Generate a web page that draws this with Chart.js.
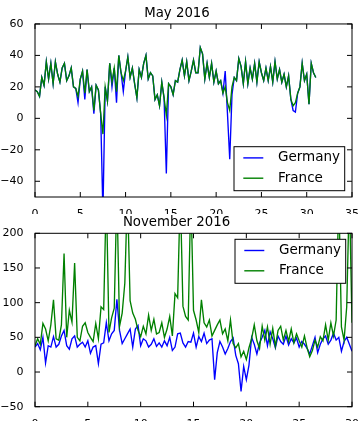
<!DOCTYPE html>
<html>
<head>
<meta charset="utf-8">
<script src="https://cdn.jsdelivr.net/npm/chart.js@4.4.1/dist/chart.umd.min.js"></script>
<style>
  body { margin: 0; background: #fff; }
  .box { position: absolute; left: 0; width: 362px; }
  #top { top: 0; height: 214px; }
  #bottom { top: 214px; height: 207px; }
  canvas { display: block; }
</style>
</head>
<body>
<div class="box" id="top"><canvas id="mayChart" width="362" height="214"></canvas></div>
<div class="box" id="bottom"><canvas id="novChart" width="362" height="207"></canvas></div>
<script>
// samples are every 6 hours, x is the day of the month
const samplesPerDay = 4;
const seriesNames = ["Germany", "France"];

const mayYTicks = [-40, -20, 0, 20, 40, 60];

const mayGermany = [
  18, 17, 14, 26, 21, 36, 25, 35, 22, 36, 28, 23, 32, 35, 24, 27,
  32, 20, 19, 10, 25, 30, 12, 31, 17, 20, 3, 21, 18, 3, -60, 20,
  11, 35, 20, 32, 10, 40, 29, 17, 30, 39, 26, 32, 22, 13, 31, 26,
  35, 40, 25, 29, 27, 12, 15, 8, 23, 13, -35, 22, 20, 15, 24, 23,
  31, 37, 27, 36, 24, 30, 37, 29, 29, 45, 41, 25, 35, 26, 35, 23,
  30, 22, 24, 16, 30, 3, -26, 15, 26, 24, 38, 33, 22, 36, 22, 32,
  25, 35, 23, 36, 29, 24, 32, 24, 33, 23, 36, 25, 31, 23, 28, 20,
  27, 12, 5, 4, 16, 20, 35, 24, 28, 9, 35, 29, 26
];
const mayFrance = [
  18, 17, 14, 26, 21, 36, 25, 35, 22, 36, 28, 23, 32, 35, 24, 27,
  32, 20, 19, 14, 25, 30, 16, 31, 17, 20, 5, 21, 18, 3, -10, 20,
  11, 35, 23, 32, 17, 40, 29, 24, 30, 39, 26, 32, 22, 13, 31, 26,
  35, 40, 25, 29, 27, 12, 15, 8, 23, 13, 2, 22, 20, 15, 24, 23,
  31, 37, 27, 36, 24, 30, 37, 29, 29, 45, 41, 25, 35, 26, 35, 23,
  30, 22, 24, 16, 20, 10, 5, 20, 26, 24, 38, 33, 22, 36, 22, 32,
  25, 35, 23, 36, 29, 24, 32, 24, 33, 23, 36, 25, 31, 23, 28, 20,
  27, 12, 8, 10, 16, 20, 35, 24, 28, 9, 35, 29, 26
];

const novGermany = [
  36, 41, 32, 50, 13, 38, 36, 51, 36, 40, 52, 60, 38, 33, 48, 52,
  36, 40, 43, 36, 45, 27, 36, 38, 12, 40, 42, 71, 45, 55, 60, 105,
  60, 41, 48, 55, 62, 36, 62, 67, 38, 48, 45, 36, 40, 48, 37, 42,
  36, 45, 38, 50, 31, 36, 55, 56, 42, 36, 44, 43, 56, 36, 51, 44,
  56, 41, 46, 48, -11, 28, 44, 36, 26, 34, 44, 49, 24, 12, -28, 8,
  -11, 10, 50, 40, 26, 42, 50, 60, 38, 58, 48, 35, 52, 44, 40, 52,
  39, 48, 42, 49, 36, 44, 40, 34, 26, 38, 50, 28, 40, 48, 52, 40,
  46, 56, 46, 50, 30, 44, 50, 40, 30
];
const novFrance = [
  38, 48, 40, 70, 62, 45, 68, 104, 48, 46, 68, 171, 50, 89, 72, 157,
  50, 45, 66, 71, 57, 50, 44, 70, 48, 94, 90, 260, 57, 78, 92, 260,
  66, 85, 128, 260, 103, 85, 76, 60, 51, 66, 55, 82, 60, 76, 55, 57,
  71, 50, 62, 80, 52, 113, 107, 260, 95, 80, 75, 260, 89, 75, 57, 104,
  71, 65, 75, 52, 60, 68, 75, 55, 62, 45, 75, 41, 35, 41, 22, 30,
  18, 35, 48, 68, 45, 34, 66, 46, 65, 40, 63, 37, 60, 66, 46, 60,
  44, 62, 42, 55, 45, 36, 52, 35, 22, 31, 46, 36, 51, 45, 68, 46,
  71, 52, 75, 260, 65, 46, 94, 260, 71
];

const FONT = "DejaVu Sans";

function toPoints(values) {
  return values.map((v, i) => ({ x: i / samplesPerDay, y: v }));
}

// matplotlib style: ticks pointing inward on all four sides, plus the frame
const frameTicks = {
  id: "frameTicks",
  afterDatasetsDraw(chart) {
    const { ctx, chartArea: a, scales } = chart;
    ctx.save();
    ctx.strokeStyle = "#000";
    ctx.lineWidth = 1;
    ctx.beginPath();
    scales.x.ticks.forEach(t => {
      const px = scales.x.getPixelForValue(t.value);
      ctx.moveTo(px, a.bottom); ctx.lineTo(px, a.bottom - 5);
      ctx.moveTo(px, a.top); ctx.lineTo(px, a.top + 5);
    });
    scales.y.ticks.forEach(t => {
      const py = scales.y.getPixelForValue(t.value);
      ctx.moveTo(a.left, py); ctx.lineTo(a.left + 5, py);
      ctx.moveTo(a.right, py); ctx.lineTo(a.right - 5, py);
    });
    ctx.stroke();
    ctx.strokeRect(a.left, a.top, a.right - a.left, a.bottom - a.top);
    ctx.restore();
  }
};

// legend box drawn inside the plot, like matplotlib's loc="lower right"/"upper right"
const boxLegend = {
  id: "boxLegend",
  afterDraw(chart, args, opts) {
    const { ctx, chartArea: a } = chart;
    const w = 110.7, h = 44;
    const left = a.right - opts.right - w;
    const top = opts.corner === "lower" ? a.bottom - opts.bottom - h : a.top + opts.top;
    ctx.save();
    ctx.fillStyle = "#fff";
    ctx.fillRect(left, top, w, h);
    ctx.strokeStyle = "#000";
    ctx.lineWidth = 1;
    ctx.strokeRect(left, top, w, h);
    ctx.font = "13.5px '" + FONT + "'";
    ctx.textBaseline = "middle";
    chart.data.datasets.forEach((ds, i) => {
      const y = top + 11.2 + i * 20.3;
      ctx.strokeStyle = ds.borderColor;
      ctx.lineWidth = 1.4;
      ctx.beginPath();
      ctx.moveTo(left + 9.3, y);
      ctx.lineTo(left + 29.3, y);
      ctx.stroke();
      ctx.fillStyle = "#000";
      ctx.fillText(ds.label, left + 44, y);
    });
    ctx.restore();
  }
};

function makeChart(id, germany, france, cfg) {
  const ctx = document.getElementById(id).getContext("2d");
  return new Chart(ctx, {
    type: "line",
    data: {
      datasets: [
        { label: seriesNames[0], data: toPoints(germany), borderColor: "#0000ff", order: 2 },
        { label: seriesNames[1], data: toPoints(france), borderColor: "#008000", order: 1 }
      ]
    },
    options: {
      responsive: false,
      animation: false,
      events: [],
      parsing: false,
      layout: { padding: { left: 0, right: cfg.padRight, top: 0, bottom: 0 } },
      elements: {
        line: { borderWidth: 1.35, tension: 0, fill: false },
        point: { radius: 0 }
      },
      datasets: { line: { clip: 0 } },
      scales: {
        x: {
          type: "linear",
          min: 0, max: cfg.xMax,
          grid: { display: false },
          border: { display: false },
          ticks: { stepSize: 5, color: "#000", padding: 3, font: { family: FONT, size: 11 }, maxRotation: 0 },
          afterFit: s => { s.height = cfg.xHeight; }
        },
        y: {
          type: "linear",
          min: cfg.yMin, max: cfg.yMax,
          grid: { display: false },
          border: { display: false },
          ticks: {
            stepSize: cfg.yStep, color: "#000", padding: 3.5,
            font: { family: FONT, size: 11 },
            callback: v => String(v).replace("-", "\u2212")
          },
          afterBuildTicks: s => { if (cfg.yTicks) s.ticks = cfg.yTicks.map(v => ({ value: v })); },
          afterFit: s => { s.width = 35; }
        }
      },
      plugins: {
        legend: { display: false },
        tooltip: { enabled: false },
        title: {
          display: true, text: cfg.title, color: "#000",
          font: { family: FONT, size: 13.3, weight: "normal", lineHeight: cfg.titleLine },
          padding: { top: cfg.titleTop, bottom: cfg.titleBottom }
        },
        boxLegend: cfg.legend
      }
    },
    plugins: [frameTicks, boxLegend]
  });
}

makeChart("mayChart", mayGermany, mayFrance, {
  title: "May 2016", xMax: 35, yMin: -50, yMax: 60, yStep: 20, yTicks: mayYTicks,
  padRight: 8, xHeight: 17, titleLine: 1.2, titleTop: 5.3, titleBottom: 2.7,
  legend: { corner: "lower", right: 7.3, bottom: 6.3 }
});

makeChart("novChart", novGermany, novFrance, {
  title: "November 2016", xMax: 30, yMin: -50, yMax: 200, yStep: 50, yTicks: null,
  padRight: 9, xHeight: 14.3, titleLine: 1, titleTop: 2.05, titleBottom: 3.95,
  legend: { corner: "upper", right: 6.3, top: 6 }
});
</script>
</body>
</html>
